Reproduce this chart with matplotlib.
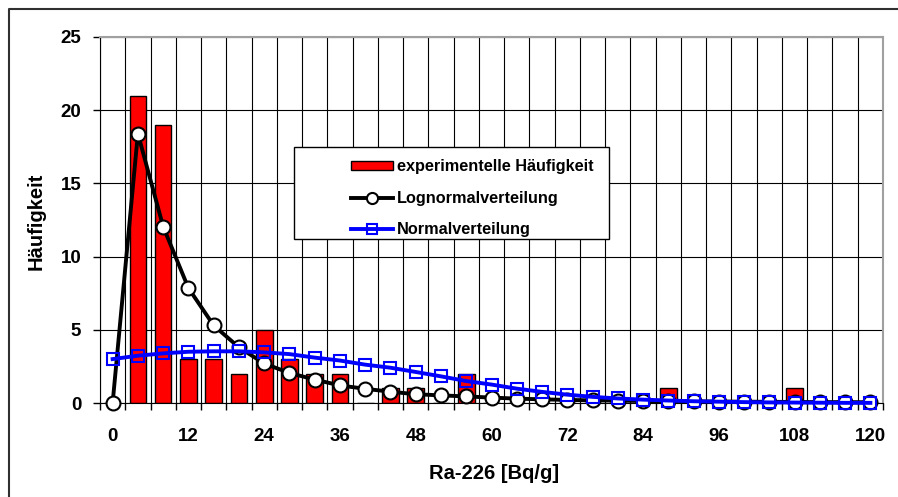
import matplotlib
matplotlib.use("Agg")
import matplotlib.pyplot as plt
from matplotlib.lines import Line2D
from matplotlib.patches import Rectangle
import numpy as np

plt.rcParams["font.family"] = ["Liberation Sans", "DejaVu Sans"]
plt.rcParams["font.weight"] = "bold"

# classes of Ra-226 activity [Bq/g]
classes = list(range(0, 124, 4))

# experimental frequency per class
experimental = [0, 21, 19, 3, 3, 2, 5, 3, 2, 2, 0, 1, 1, 0, 2, 0,
                0, 0, 0, 0, 0, 0, 1, 0, 0, 0, 0, 1, 0, 0, 0]

lognormal = [0.0, 18.4, 12.05, 7.85, 5.3, 3.8, 2.7, 2.05, 1.6, 1.2, 0.97,
             0.77, 0.6, 0.52, 0.45, 0.37, 0.3, 0.25, 0.21, 0.18, 0.16,
             0.14, 0.12, 0.11, 0.1, 0.09, 0.08, 0.07, 0.06, 0.06, 0.05]

normal = [3.0, 3.23, 3.39, 3.5, 3.53, 3.53, 3.46, 3.34, 3.1, 2.9, 2.62,
          2.41, 2.12, 1.82, 1.5, 1.26, 0.98, 0.76, 0.57, 0.42, 0.31,
          0.23, 0.17, 0.12, 0.09, 0.06, 0.04, 0.03, 0.02, 0.01, 0.01]

xticklabels = ["0", "12", "24", "36", "48", "60", "72", "84", "96", "108", "120"]

W, H = 898, 497
fig = plt.figure(figsize=(W / 100, H / 100), dpi=100)
# chart area frame (only left and top edges fall inside the picture)
fig.add_artist(Line2D([9 / W, 9 / W, 1.0], [0.0, 1 - 9 / H, 1 - 9 / H],
                      transform=fig.transFigure, color="#303030", lw=1.5))

ax = fig.add_axes([100 / W, 1 - 403 / H, 783 / W, 366 / H])

idx = np.arange(len(classes))
bars = ax.bar(idx, experimental, width=0.66, color="#ff0000", edgecolor="black",
              linewidth=1.0, zorder=2)
ln_log, = ax.plot(idx, lognormal, "-o", color="black", lw=2.8, ms=10,
                  mfc="white", mec="black", mew=1.5, zorder=3, clip_on=False)
ln_norm, = ax.plot(idx, normal, "-s", color="#0000ff", lw=2.8, ms=9,
                   mfc="none", mec="#0000ff", mew=1.5, zorder=4, clip_on=False)

ax.set_xlim(-0.5, len(classes) - 0.5)
ax.set_ylim(0, 25)
ax.set_yticks(range(0, 26, 5))

ax.set_xticks(idx[::3])
ax.set_xticklabels(xticklabels)
ax.set_xticks(np.arange(-0.5, len(classes), 1), minor=True)
ax.tick_params(axis="x", which="major", length=0, pad=18, labelsize=13.5)
ax.tick_params(axis="x", which="minor", length=5, width=1)
ax.tick_params(axis="y", length=5, width=1, labelsize=13.5, pad=8.5)
for lbl in ax.get_xticklabels() + ax.get_yticklabels():
    lbl.set_fontweight("bold")

ax.grid(True, which="minor", axis="x", color="black", lw=0.8, zorder=0)
ax.grid(True, which="major", axis="y", color="black", lw=0.8, zorder=0)
ax.set_axisbelow(True)

for side in ["top", "right"]:
    ax.spines[side].set_color("#a0a0a0")
    ax.spines[side].set_linewidth(1.5)
for side in ["left", "bottom"]:
    ax.spines[side].set_color("black")

ax.set_xlabel("Ra-226 [Bq/g]", fontsize=14.5, fontweight="bold")
ax.xaxis.set_label_coords(0.503, -0.167)
ax.set_ylabel("Häufigkeit", fontsize=14.5, fontweight="bold")
ax.yaxis.label.set_va("center")
ax.yaxis.set_label_coords(-0.081, 0.497)

# legend frame and entries
fig.add_artist(Rectangle((294 / W, 1 - 239 / H), 315 / W, 92 / H,
                         transform=fig.transFigure, facecolor="white",
                         edgecolor="black", lw=1.0, zorder=5))
leg = fig.legend([bars, ln_log, ln_norm],
                 ["experimentelle Häufigkeit", "Lognormalverteilung", "Normalverteilung"],
                 loc="upper left", bbox_to_anchor=(351 / W, 1 - 159 / H),
                 frameon=False, prop={"weight": "bold", "size": 11.7},
                 handlelength=2.6, handleheight=0.5, handletextpad=0.25,
                 borderpad=0, labelspacing=1.03, borderaxespad=0,
                 markerscale=0.8)
leg.set_zorder(6)

fig.savefig("out.png", dpi=100)
